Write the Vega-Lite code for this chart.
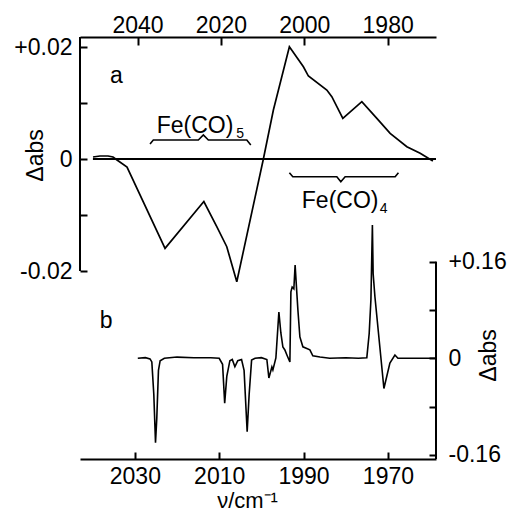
{
  "$schema": "https://vega.github.io/schema/vega-lite/v6.json",
  "width": 356,
  "height": 422,
  "autosize": "none",
  "padding": {"left": 80, "top": 37, "right": 72, "bottom": 54},
  "background": "white",
  "config": {
    "view": {"stroke": null},
    "font": "Liberation Sans",
    "text": {"font": "Liberation Sans", "color": "black"},
    "axis": {
      "grid": false,
      "domainColor": "black",
      "domainWidth": 2,
      "tickColor": "black",
      "tickWidth": 2,
      "labelColor": "black",
      "labelFont": "Liberation Sans",
      "labelFontSize": 23,
      "titleFont": "Liberation Sans",
      "titleFontSize": 23,
      "titleFontWeight": "normal",
      "titleColor": "black",
      "labelOverlap": false,
      "labelFlush": false
    }
  },
  "layer": [
    {
      "data": {"values": [
        {"x": 2050.68, "y": 0.00036},
        {"x": 2049.0, "y": 0.00054},
        {"x": 2047.08, "y": 0.00054},
        {"x": 2045.88, "y": 0.00036},
        {"x": 2044.92, "y": -0.00018},
        {"x": 2042.52, "y": -0.00143},
        {"x": 2033.40, "y": -0.01595},
        {"x": 2024.09, "y": -0.00759},
        {"x": 2020.99, "y": -0.01209},
        {"x": 2018.59, "y": -0.01566},
        {"x": 2016.19, "y": -0.02191},
        {"x": 2009.81, "y": 0.0},
        {"x": 2007.41, "y": 0.00875},
        {"x": 2003.57, "y": 0.02005},
        {"x": 2000.21, "y": 0.01648},
        {"x": 1999.01, "y": 0.01482},
        {"x": 1994.59, "y": 0.01232},
        {"x": 1993.39, "y": 0.01113},
        {"x": 1990.75, "y": 0.00727},
        {"x": 1986.19, "y": 0.01023},
        {"x": 1982.59, "y": 0.00727},
        {"x": 1979.40, "y": 0.00459},
        {"x": 1975.39, "y": 0.0022},
        {"x": 1972.20, "y": 0.00102},
        {"x": 1969.15, "y": -0.00036}
      ]},
      "mark": {"type": "line", "color": "black", "strokeWidth": 1.7},
      "encoding": {
        "x": {
          "field": "x", "type": "quantitative",
          "scale": {"domain": [1968.4, 2053.8], "reverse": true, "nice": false, "zero": false},
          "axis": {
            "orient": "top", "values": [2040, 2020, 2000, 1980], "format": "d",
            "tickSize": -8, "labelPadding": 13, "labelBaseline": "alphabetic", "title": null
          }
        },
        "y": {
          "field": "y", "type": "quantitative",
          "scale": {"domain": [-0.05357, 0.02179], "nice": false, "zero": false},
          "axis": {
            "orient": "left", "domain": false,
            "values": [-0.02, -0.01, 0, 0.01, 0.02],
            "labelExpr": "datum.value > 0.015 ? '+0.02' : datum.value < -0.015 ? '-0.02' : abs(datum.value) < 0.001 ? '0' : ''",
            "tickSize": -7, "labelPadding": 15,
            "title": "Δabs", "titleAngle": 270, "titleX": -45, "titleY": 118,
            "titleAlign": "center", "titleBaseline": "middle"
          }
        }
      }
    },
    {
      "data": {"values": [{"x": 2050.7, "x2": 1968.4, "y": 0}]},
      "mark": {"type": "rule", "color": "black", "strokeWidth": 1.8},
      "encoding": {
        "x": {"field": "x", "type": "quantitative", "axis": null,
              "scale": {"domain": [1968.4, 2053.8], "reverse": true, "nice": false, "zero": false}},
        "x2": {"field": "x2"},
        "y": {"field": "y", "type": "quantitative", "axis": null,
              "scale": {"domain": [-0.05357, 0.02179], "nice": false, "zero": false}}
      }
    },
    {
      "data": {"values": [{"x": 2053.8, "y": -0.02, "y2": 0.02179}]},
      "mark": {"type": "rule", "color": "black", "strokeWidth": 2},
      "encoding": {
        "x": {"field": "x", "type": "quantitative", "axis": null,
              "scale": {"domain": [1968.4, 2053.8], "reverse": true, "nice": false, "zero": false}},
        "y": {"field": "y", "type": "quantitative", "axis": null,
              "scale": {"domain": [-0.05357, 0.02179], "nice": false, "zero": false}},
        "y2": {"field": "y2"}
      }
    },
    {
      "data": {"values": [
        {"b": "5", "x": 2037.0, "y": 0.00268},
        {"b": "5", "x": 2036.21, "y": 0.00339},
        {"b": "5", "x": 2025.41, "y": 0.00339},
        {"b": "5", "x": 2024.21, "y": 0.00429},
        {"b": "5", "x": 2023.01, "y": 0.00339},
        {"b": "5", "x": 2013.79, "y": 0.00339},
        {"b": "5", "x": 2012.83, "y": 0.0025},
        {"b": "4", "x": 2003.57, "y": -0.00245},
        {"b": "4", "x": 2002.75, "y": -0.00316},
        {"b": "4", "x": 1992.19, "y": -0.00316},
        {"b": "4", "x": 1991.23, "y": -0.00405},
        {"b": "4", "x": 1990.20, "y": -0.00316},
        {"b": "4", "x": 1978.20, "y": -0.00316},
        {"b": "4", "x": 1977.41, "y": -0.00245}
      ]},
      "mark": {"type": "line", "color": "black", "strokeWidth": 1.6},
      "encoding": {
        "x": {"field": "x", "type": "quantitative", "axis": null,
              "scale": {"domain": [1968.4, 2053.8], "reverse": true, "nice": false, "zero": false}},
        "y": {"field": "y", "type": "quantitative", "axis": null,
              "scale": {"domain": [-0.05357, 0.02179], "nice": false, "zero": false}},
        "detail": {"field": "b"}
      }
    },
    {
      "data": {"values": [
        {"label": "Fe(CO)", "x": 2035.39, "y": 0.00464},
        {"label": "Fe(CO)", "x": 2000.59, "y": -0.00875},
        {"label": "a", "x": 2046.6, "y": 0.01357}
      ]},
      "mark": {"type": "text", "fontSize": 23, "align": "left", "baseline": "alphabetic", "color": "black"},
      "encoding": {
        "x": {"field": "x", "type": "quantitative", "axis": null,
              "scale": {"domain": [1968.4, 2053.8], "reverse": true, "nice": false, "zero": false}},
        "y": {"field": "y", "type": "quantitative", "axis": null,
              "scale": {"domain": [-0.05357, 0.02179], "nice": false, "zero": false}},
        "text": {"field": "label"}
      }
    },
    {
      "data": {"values": [
        {"label": "5", "x": 2016.3, "y": 0.00375},
        {"label": "4", "x": 1981.9, "y": -0.00964}
      ]},
      "mark": {"type": "text", "fontSize": 14, "align": "left", "baseline": "alphabetic", "color": "black"},
      "encoding": {
        "x": {"field": "x", "type": "quantitative", "axis": null,
              "scale": {"domain": [1968.4, 2053.8], "reverse": true, "nice": false, "zero": false}},
        "y": {"field": "y", "type": "quantitative", "axis": null,
              "scale": {"domain": [-0.05357, 0.02179], "nice": false, "zero": false}},
        "text": {"field": "label"}
      }
    },
    {
      "data": {"values": [
        {"x": 2029.3, "y": 0.0},
        {"x": 2027.5, "y": 0.001},
        {"x": 2026.4, "y": -0.001},
        {"x": 2025.97, "y": -0.006},
        {"x": 2025.5, "y": -0.06},
        {"x": 2025.1, "y": -0.14},
        {"x": 2024.8, "y": -0.1},
        {"x": 2024.4, "y": -0.02},
        {"x": 2024.0, "y": -0.004},
        {"x": 2023.0, "y": 0.0},
        {"x": 2020.0, "y": 0.002},
        {"x": 2016.0, "y": 0.001},
        {"x": 2012.0, "y": 0.001},
        {"x": 2010.0, "y": 0.0},
        {"x": 2009.2, "y": -0.01},
        {"x": 2008.7, "y": -0.0745},
        {"x": 2008.2, "y": -0.03},
        {"x": 2007.47, "y": -0.004},
        {"x": 2006.9, "y": -0.002},
        {"x": 2006.28, "y": -0.014},
        {"x": 2005.6, "y": -0.004},
        {"x": 2004.7, "y": -0.002},
        {"x": 2004.1, "y": -0.02},
        {"x": 2003.37, "y": -0.1216},
        {"x": 2002.9, "y": -0.06},
        {"x": 2002.32, "y": -0.003},
        {"x": 2001.5, "y": 0.0},
        {"x": 2000.0, "y": 0.001},
        {"x": 1998.7, "y": -0.002},
        {"x": 1998.22, "y": -0.0326},
        {"x": 1997.51, "y": -0.0144},
        {"x": 1997.27, "y": -0.0194},
        {"x": 1996.56, "y": 0.0005},
        {"x": 1995.85, "y": 0.0767},
        {"x": 1995.38, "y": 0.0419},
        {"x": 1994.9, "y": 0.0187},
        {"x": 1994.43, "y": 0.0138},
        {"x": 1993.95, "y": 0.0055},
        {"x": 1993.24, "y": -0.0061},
        {"x": 1993.0, "y": 0.11},
        {"x": 1992.7, "y": 0.118},
        {"x": 1992.3, "y": 0.115},
        {"x": 1992.0, "y": 0.1545},
        {"x": 1991.7, "y": 0.12},
        {"x": 1991.34, "y": 0.08},
        {"x": 1990.87, "y": 0.0353},
        {"x": 1990.16, "y": 0.019},
        {"x": 1988.5, "y": 0.014},
        {"x": 1987.8, "y": 0.004},
        {"x": 1986.1, "y": 0.002},
        {"x": 1983.8, "y": 0.0},
        {"x": 1980.0, "y": 0.001},
        {"x": 1977.0, "y": 0.0},
        {"x": 1975.0, "y": 0.001},
        {"x": 1974.44, "y": 0.041},
        {"x": 1974.03, "y": 0.097},
        {"x": 1973.68, "y": 0.2208},
        {"x": 1973.5, "y": 0.14},
        {"x": 1973.08, "y": 0.102},
        {"x": 1970.95, "y": -0.05},
        {"x": 1969.53, "y": -0.0078},
        {"x": 1968.34, "y": 0.0055},
        {"x": 1967.63, "y": 0.0},
        {"x": 1963.0, "y": 0.0},
        {"x": 1958.6, "y": 0.0}
      ]},
      "mark": {"type": "line", "color": "black", "strokeWidth": 1.6},
      "encoding": {
        "x": {
          "field": "x", "type": "quantitative",
          "scale": {"domain": [1958.6, 2043.0], "reverse": true, "nice": false, "zero": false},
          "axis": {
            "orient": "bottom", "values": [2030, 2010, 1990, 1970], "format": "d",
            "tickSize": -7, "labelPadding": 13, "labelBaseline": "top",
            "title": "ν/cm⁻¹", "titleX": 167, "titleY": 48, "titleFontSize": 22,
            "titleAlign": "center", "titleBaseline": "alphabetic"
          }
        },
        "y": {
          "field": "y", "type": "quantitative",
          "scale": {"domain": [-0.1668, 0.5321], "nice": false, "zero": false},
          "axis": {
            "orient": "right", "domain": false,
            "values": [-0.16, -0.08, 0, 0.08, 0.16],
            "labelExpr": "datum.value > 0.12 ? '+0.16' : datum.value < -0.12 ? '-0.16' : abs(datum.value) < 0.01 ? '0' : ''",
            "tickSize": -7, "labelPadding": 19,
            "title": "Δabs", "titleAngle": 270, "titleX": 52, "titleY": 318,
            "titleAlign": "center", "titleBaseline": "middle"
          }
        }
      }
    },
    {
      "data": {"values": [{"x": 1958.6, "y": -0.1668, "y2": 0.16}]},
      "mark": {"type": "rule", "color": "black", "strokeWidth": 2},
      "encoding": {
        "x": {"field": "x", "type": "quantitative", "axis": null,
              "scale": {"domain": [1958.6, 2043.0], "reverse": true, "nice": false, "zero": false}},
        "y": {"field": "y", "type": "quantitative", "axis": null,
              "scale": {"domain": [-0.1668, 0.5321], "nice": false, "zero": false}},
        "y2": {"field": "y2"}
      }
    },
    {
      "data": {"values": [{"label": "b", "x": 2038.3, "y": 0.0502}]},
      "mark": {"type": "text", "fontSize": 23, "align": "left", "baseline": "alphabetic", "color": "black"},
      "encoding": {
        "x": {"field": "x", "type": "quantitative", "axis": null,
              "scale": {"domain": [1958.6, 2043.0], "reverse": true, "nice": false, "zero": false}},
        "y": {"field": "y", "type": "quantitative", "axis": null,
              "scale": {"domain": [-0.1668, 0.5321], "nice": false, "zero": false}},
        "text": {"field": "label"}
      }
    }
  ],
  "resolve": {
    "scale": {"x": "independent", "y": "independent"},
    "axis": {"x": "independent", "y": "independent"}
  }
}
